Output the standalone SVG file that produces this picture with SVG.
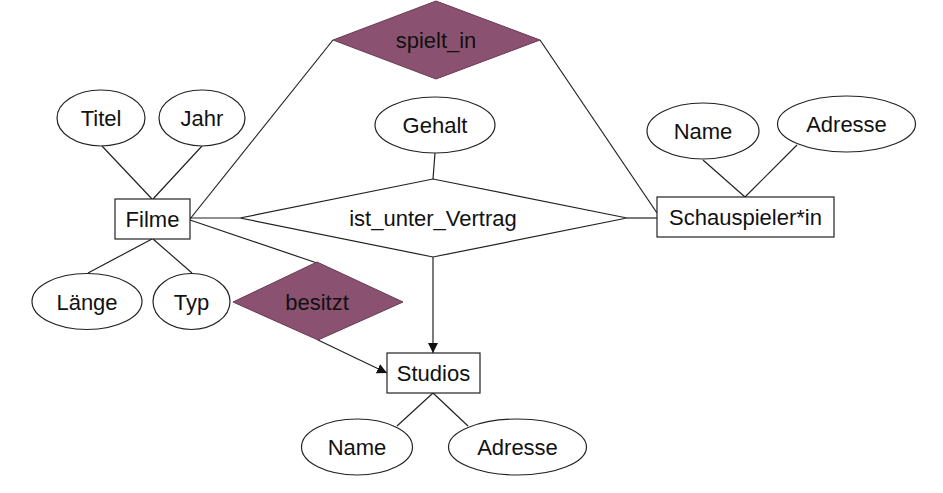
<svg xmlns="http://www.w3.org/2000/svg" width="943" height="493" viewBox="0 0 943 493">
<defs>
<style>
.ent{fill:#fff;stroke:#222;stroke-width:1.2}
.att{fill:#fff;stroke:#222;stroke-width:1.2}
.rel{fill:#8a5270;stroke:#6a3a55;stroke-width:1}
.relw{fill:#fff;stroke:#222;stroke-width:1.2}
.ln{fill:none;stroke:#222;stroke-width:1.2}
text{font-family:"Liberation Sans",Arial,sans-serif;font-size:22px;fill:#111;text-anchor:middle}
</style>
<marker id="arr" viewBox="0 0 10 10" refX="10" refY="5" markerWidth="10" markerHeight="10" markerUnits="userSpaceOnUse" orient="auto">
<path d="M0,0 L10,5 L0,10 z" fill="#111"/>
</marker>
</defs>
<rect width="943" height="493" fill="#fff"/>
<g id="connectors">
<line class="ln" x1="102" y1="146" x2="152" y2="199"/>
<line class="ln" x1="202" y1="146" x2="153" y2="199"/>
<line class="ln" x1="190" y1="219" x2="333" y2="40"/>
<line class="ln" x1="190" y1="218" x2="240" y2="218"/>
<line class="ln" x1="190" y1="220" x2="317" y2="263"/>
<line class="ln" x1="152" y1="239" x2="88" y2="273"/>
<line class="ln" x1="153" y1="239" x2="192" y2="273"/>
<line class="ln" x1="435" y1="153" x2="433" y2="179"/>
<line class="ln" x1="627" y1="218" x2="657" y2="218"/>
<line class="ln" x1="540" y1="40" x2="657" y2="213"/>
<line class="ln" x1="703" y1="160" x2="745" y2="197"/>
<line class="ln" x1="797" y1="145" x2="745" y2="197"/>
<line class="ln" x1="433" y1="257" x2="433" y2="353" marker-end="url(#arr)"/>
<line class="ln" x1="318" y1="340" x2="387" y2="373" marker-end="url(#arr)"/>
<line class="ln" x1="433" y1="393" x2="397" y2="426"/>
<line class="ln" x1="433" y1="393" x2="468" y2="426"/>
</g>
<g id="spielt_in"><polygon class="rel" points="333,40 436,1 540,40 436,79"/><text x="436" y="48">spielt_in</text></g>
<g id="titel"><ellipse class="att" cx="101" cy="118" rx="44" ry="28"/><text x="101" y="126">Titel</text></g>
<g id="jahr"><ellipse class="att" cx="202" cy="118" rx="43" ry="28"/><text x="202" y="126">Jahr</text></g>
<g id="gehalt"><ellipse class="att" cx="435" cy="125" rx="60" ry="28"/><text x="435" y="133">Gehalt</text></g>
<g id="filme"><rect class="ent" x="115" y="199" width="75" height="40"/><text x="152.5" y="227">Filme</text></g>
<g id="ist_unter_vertrag"><polygon class="relw" points="240,218 433,179 627,218 433,257"/><text x="433" y="226">ist_unter_Vertrag</text></g>
<g id="schauspieler"><rect class="ent" x="657" y="197" width="177" height="40"/><text x="745.5" y="225">Schauspieler*in</text></g>
<g id="s_name"><ellipse class="att" cx="703" cy="131" rx="56" ry="28"/><text x="703" y="139">Name</text></g>
<g id="s_adresse"><ellipse class="att" cx="846.5" cy="124" rx="69" ry="28"/><text x="846.5" y="132">Adresse</text></g>
<g id="laenge"><ellipse class="att" cx="87" cy="301.5" rx="55" ry="28"/><text x="87" y="309.5">Länge</text></g>
<g id="typ"><ellipse class="att" cx="191.5" cy="301.5" rx="38.5" ry="28"/><text x="191.5" y="309.5">Typ</text></g>
<g id="besitzt"><polygon class="rel" points="233,302 317,262 403,302 318,340"/><text x="317" y="310">besitzt</text></g>
<g id="studios"><rect class="ent" x="387" y="353" width="93" height="40"/><text x="433.5" y="381">Studios</text></g>
<g id="st_name"><ellipse class="att" cx="357" cy="447" rx="55.5" ry="28"/><text x="357" y="455">Name</text></g>
<g id="st_adresse"><ellipse class="att" cx="517.5" cy="447" rx="69" ry="28"/><text x="517.5" y="455">Adresse</text></g>
</svg>
